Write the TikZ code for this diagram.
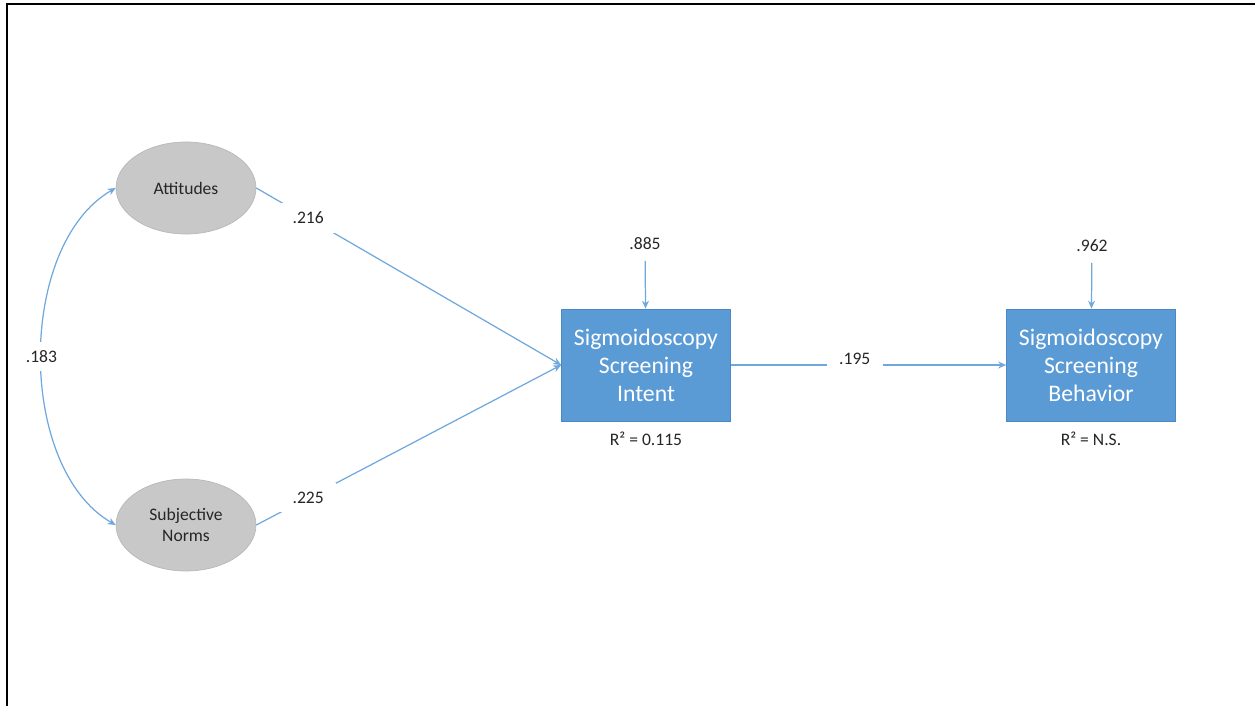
\documentclass[tikz,border=0pt]{standalone}
\usepackage{fontspec}
\setmainfont{Carlito}
\usetikzlibrary{arrows.meta, positioning, shapes.geometric}
\definecolor{boxblue}{HTML}{5B9BD5}
\definecolor{boxedge}{HTML}{4A89C6}
\definecolor{pathblue}{HTML}{6FA8DC}
\definecolor{ovalgrey}{HTML}{C8C8C8}
\definecolor{ovaledge}{HTML}{B8B8B8}
\definecolor{inkgrey}{HTML}{262626}
\tikzset{
  latent/.style={ellipse, draw=ovaledge, fill=ovalgrey, minimum width=2.8cm, minimum height=1.84cm,
    inner sep=0pt, align=center, text=inkgrey, font=\fontsize{10}{12}\selectfont},
  measure/.style={rectangle, draw=boxedge, fill=boxblue, minimum width=3.38cm, minimum height=2.24cm,
    align=center, text=white, font=\fontsize{13.5}{16}\selectfont},
  note/.style={font=\fontsize{10}{12}\selectfont, text=inkgrey, inner sep=6pt},
  coef/.style={note, fill=white, inner xsep=7pt, inner ysep=5pt},
  effect/.style={-{Stealth[length=1.6mm, width=1.4mm]}, line width=0.7pt, pathblue},
  covar/.style={effect, {Stealth[length=1.6mm, width=1.4mm]}-{Stealth[length=1.6mm, width=1.4mm]}},
}
\begin{document}
\begin{tikzpicture}[x=0.02cm, y=-0.02cm]
\useasboundingbox (0,0) rectangle (1255,706);
\draw[line width=1.7pt] (1255,4) -- (7,4) -- (7,706);
\node[latent] (att) at (186,188) {Attitudes};
\node[latent] (norm) at (186,525) {Subjective\\Norms};
\node[measure] (intent) at (646,365) {Sigmoidoscopy\\Screening\\Intent};
\node[measure] (behav) at (1091,365) {Sigmoidoscopy\\Screening\\Behavior};
\node[note] (e1) at (645,244) {.885};
\node[note] (e2) at (1092,246) {.962};
\node[note, inner sep=0pt, below=0.2cm of intent] (r1) {R² = 0.115};
\node[note, inner sep=0pt, below=0.2cm of behav] (r2) {R² = N.S.};
\draw[effect] (e1) -- (intent);
\draw[effect] (e2) -- (behav);
\draw[effect] (att.east) -- node[coef, pos=0.17] {.216} (intent.west);
\draw[effect] (norm.east) -- node[coef, pos=0.17] {.225} (intent.west);
\draw[effect] (intent) -- node[coef, pos=0.45, yshift=0.12cm] {.195} (behav);
\draw[covar] (att.west) .. controls +(-99,57) and +(-99,-57) .. node[coef] {.183} (norm.west);
\end{tikzpicture}
\end{document}
